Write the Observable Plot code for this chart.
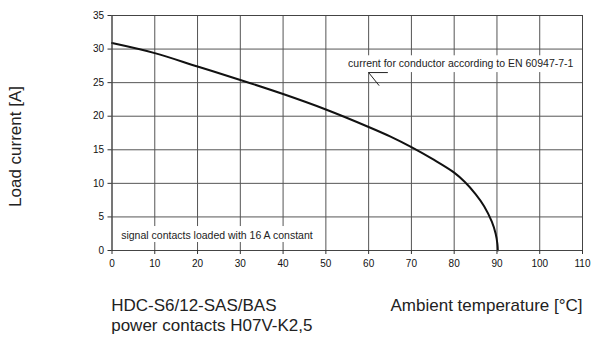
<!DOCTYPE html>
<html>
<head>
<meta charset="utf-8">
<script src="https://cdn.jsdelivr.net/npm/d3@7"></script>
<script src="https://cdn.jsdelivr.net/npm/@observablehq/plot@0.6"></script>
<style>
  html, body { margin: 0; padding: 0; background: #fff; }
</style>
</head>
<body>
<div id="chart"></div>
<script>
// Data
const temps = [0, 10, 20, 30, 40, 50, 60, 65, 70, 75, 80, 82.5, 85, 87, 88.8, 89.7, 90.1, 90.2];
const loads = [30.9, 29.4, 27.4, 25.4, 23.3, 21.0, 18.4, 17.0, 15.4, 13.6, 11.6, 10.2, 8.4, 6.6, 4.3, 2.5, 1.0, 0];
const xTicks = [0, 10, 20, 30, 40, 50, 60, 70, 80, 90, 100, 110];
const yTicks = [0, 5, 10, 15, 20, 25, 30, 35];
const noteTexts = ["current for conductor according to EN 60947-7-1", "signal contacts loaded with 16 A constant"];
const noteX = [55.2, 2.15];
const noteY = [27.3, 1.74];
const boxX1 = [54.3, 0.8];
const boxX2 = [108.5, 48.3];
const boxY1 = [26.5, 1.19];
const boxY2 = [29.0, 3.57];
const leaderX = [64.4, 60, 62.4];
const leaderY = [26.5, 26.5, 24.6];
const yLabel = "Load current [A]";
const xLabel = "Ambient temperature [°C]";
const caption1 = "HDC-S6/12-SAS/BAS";
const caption2 = "power contacts H07V-K2,5";

const curve = temps.map((t, i) => ({t, load: loads[i]}));
const notes = noteTexts.map((text, i) => ({text, x: noteX[i], y: noteY[i]}));
const boxes = boxX1.map((x1, i) => ({x1, x2: boxX2[i], y1: boxY1[i], y2: boxY2[i]}));
const leader = leaderX.map((x, i) => ({x, y: leaderY[i]}));

const chart = Plot.plot({
  width: 593,
  height: 338,
  marginLeft: 111.5,
  marginRight: 11,
  marginTop: 15,
  marginBottom: 88,
  style: {fontFamily: "'Liberation Sans', Arial, sans-serif", fontSize: "10px", color: "#111", background: "#fff"},
  x: {domain: [0, 110]},
  y: {domain: [0, 35]},
  marks: [
    Plot.gridX(xTicks, {stroke: "#555", strokeOpacity: 1, strokeWidth: 1}),
    Plot.gridY(yTicks, {stroke: "#555", strokeOpacity: 1, strokeWidth: 1}),
    Plot.rect(boxes, {x1: "x1", x2: "x2", y1: "y1", y2: "y2", fill: "#fff"}),
    Plot.text(notes, {x: "x", y: "y", text: "text", textAnchor: "start", lineAnchor: "bottom", fontSize: 10.5, fill: "#222"}),
    Plot.line(leader, {x: "x", y: "y", stroke: "#222", strokeWidth: 1}),
    Plot.line(curve, {x: "t", y: "load", stroke: "#111", strokeWidth: 2, curve: "catmull-rom"}),
    Plot.frame({stroke: "#444", strokeWidth: 1}),
    Plot.axisX(xTicks, {tickSize: 4, tickPadding: 5, label: null, stroke: "#333", fill: "#111"}),
    Plot.axisY(yTicks, {tickSize: 4, tickPadding: 4, label: null, stroke: "#333", fill: "#111"}),
    Plot.text([yLabel], {frameAnchor: "left", rotate: -90, dx: -96.5, dy: 13.5, textAnchor: "middle", lineAnchor: "middle", fontSize: 17, fill: "#222"}),
    Plot.text([caption1], {frameAnchor: "bottom-left", dx: -0.8, dy: 60.7, textAnchor: "start", lineAnchor: "bottom", fontSize: 17, fill: "#222"}),
    Plot.text([caption2], {frameAnchor: "bottom-left", dx: -0.8, dy: 80.2, textAnchor: "start", lineAnchor: "bottom", fontSize: 17, fill: "#222"}),
    Plot.text([xLabel], {frameAnchor: "bottom-right", dx: 0, dy: 60.7, textAnchor: "end", lineAnchor: "bottom", fontSize: 17, fill: "#222"})
  ]
});
document.getElementById("chart").appendChild(chart);
</script>
</body>
</html>
